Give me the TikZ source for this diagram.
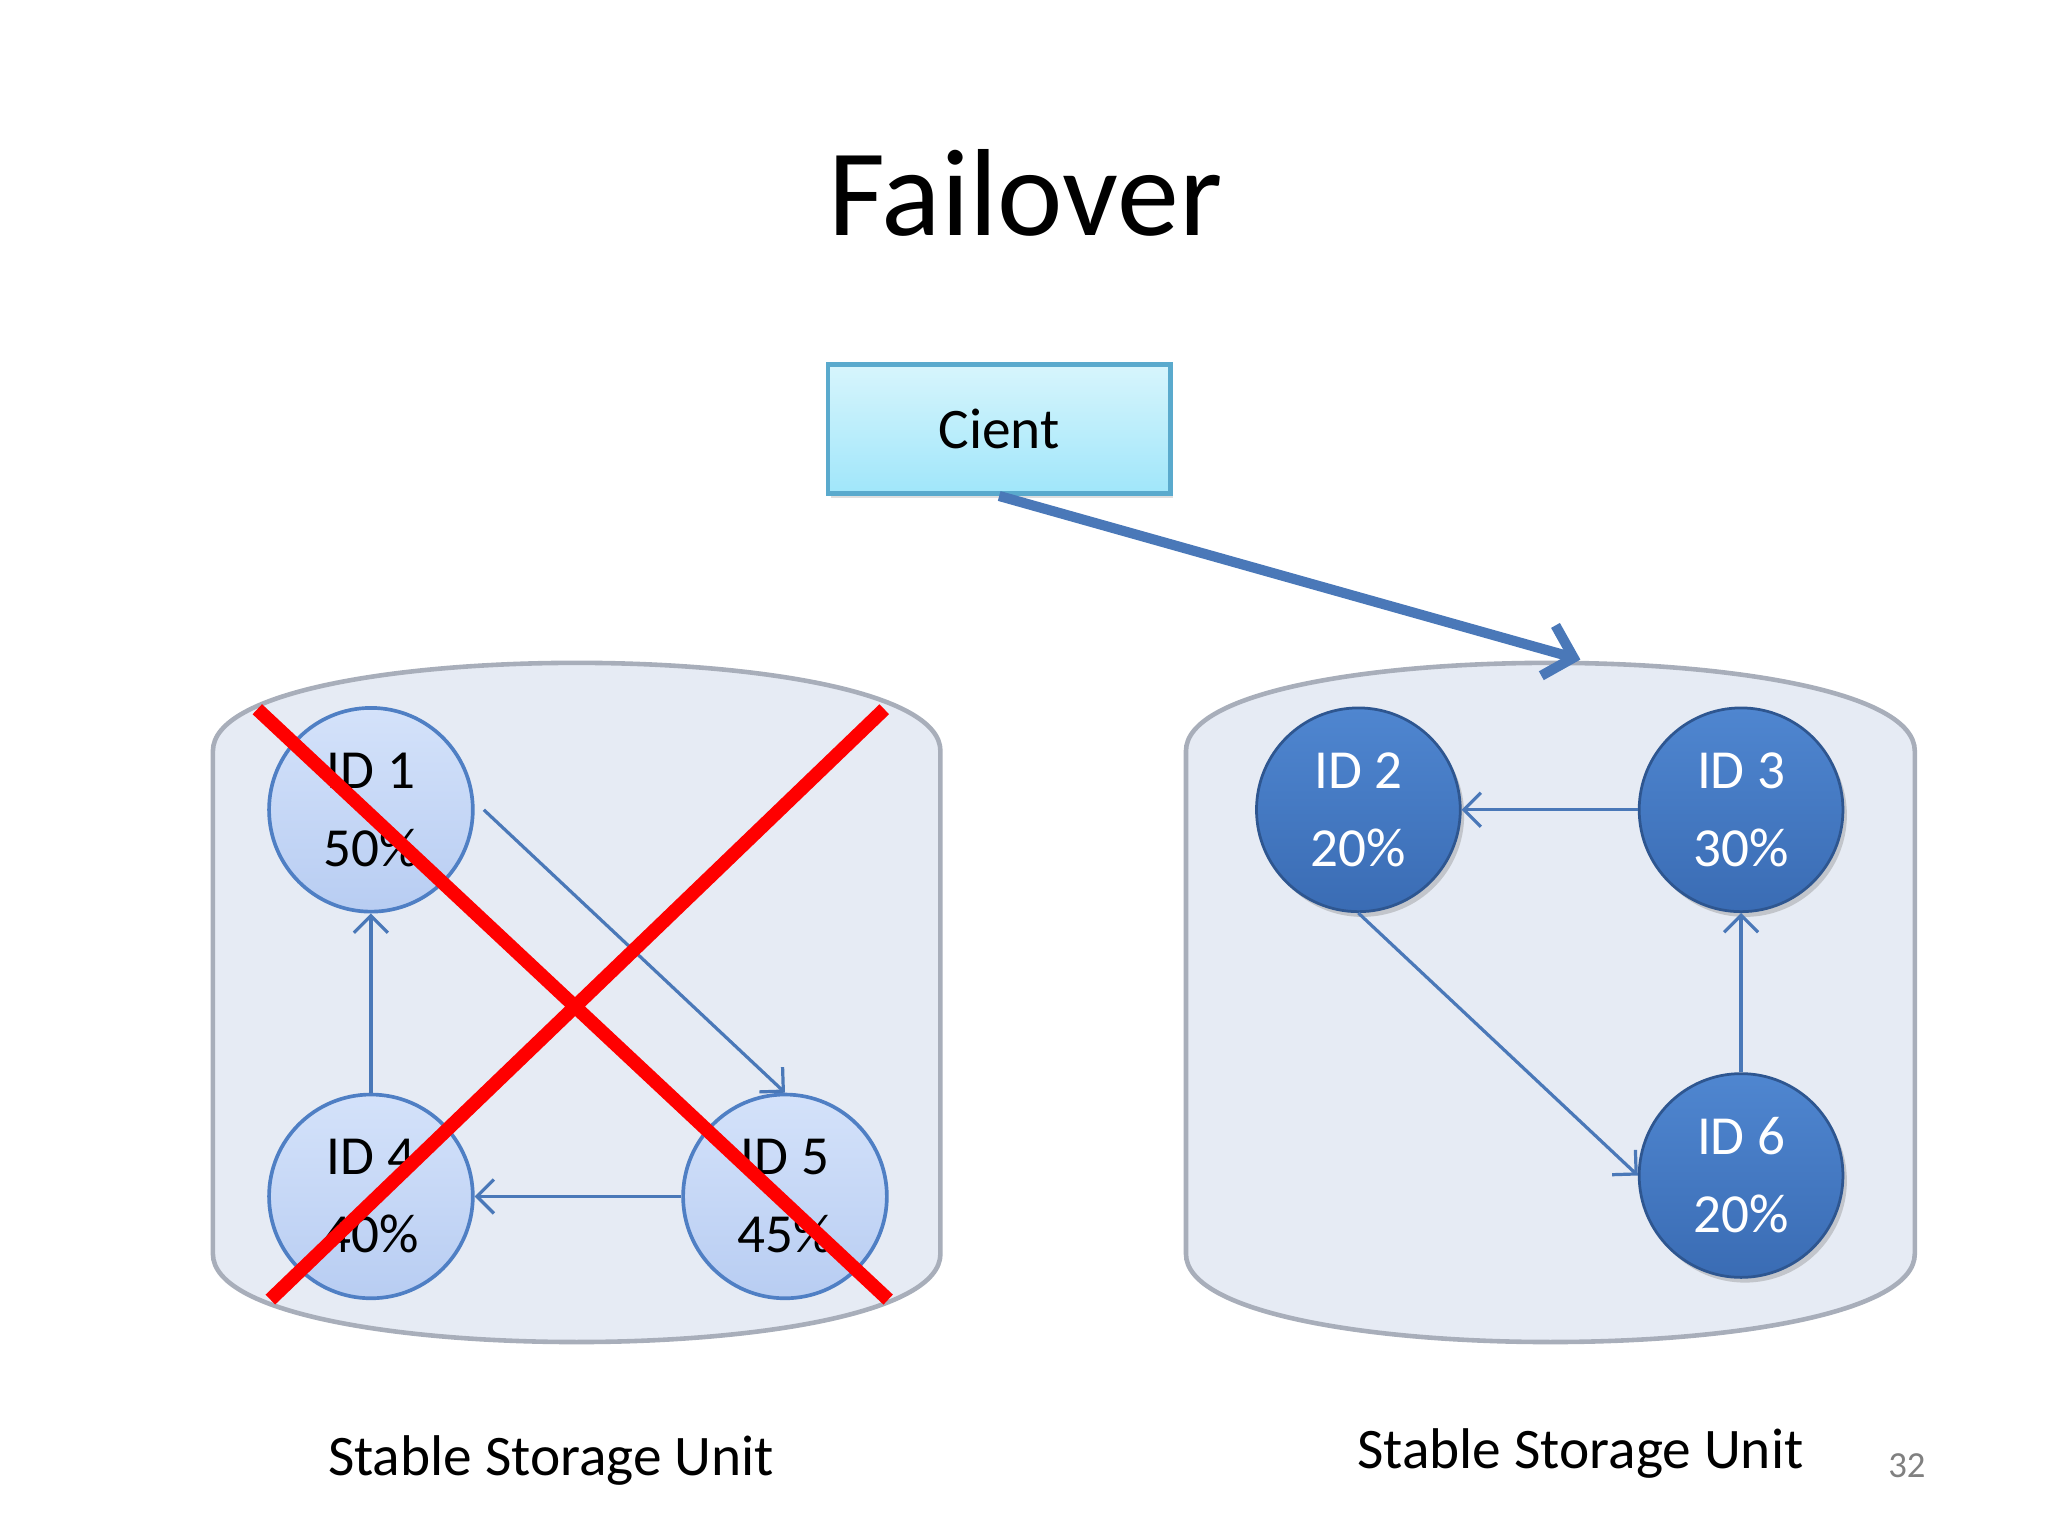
\documentclass[tikz,border=0pt]{standalone}
\usepackage{fontspec}
\setmainfont{Carlito}
\usetikzlibrary{arrows.meta,shadows}
\definecolor{cylfill}{HTML}{E6EBF4}
\definecolor{cylline}{HTML}{A8AEBA}
\definecolor{lblue}{HTML}{B8CDF2}
\definecolor{lbluetop}{HTML}{D4E2FA}
\definecolor{lline}{HTML}{4F7FC4}
\definecolor{dblue}{HTML}{3A6CB4}
\definecolor{dbluetop}{HTML}{4F86D0}
\definecolor{arr}{HTML}{4A78B8}
\tikzset{
  cyl/.style={fill=cylfill,draw=cylline,line width=1pt},
  lnode/.style={circle,minimum size=1.56cm,inner sep=0pt,draw=lline,line width=0.8pt,top color=lbluetop,bottom color=lblue,align=center,font=\fontsize{12}{17}\selectfont,text=black},
  dnode/.style={circle,minimum size=1.56cm,inner sep=0pt,draw=dblue!80!black,line width=0.6pt,top color=dbluetop,bottom color=dblue,align=center,font=\fontsize{12}{17}\selectfont,text=white,drop shadow={opacity=0.35,shadow xshift=0.03cm,shadow yshift=-0.04cm}},
  thin/.style={draw=arr,line width=0.7pt,-{Straight Barb[length=1.3mm,width=2.6mm]}},
  cross/.style={draw=red,line width=3pt},
  lbl/.style={font=\fontsize{12.5}{15}\selectfont}
}
\begin{document}
\begin{tikzpicture}
\useasboundingbox (0,0) rectangle (15.68,-11.76);
\node (title) at (7.85,-1.48) {\fontsize{27}{32}\selectfont Failover};
\node[draw={rgb,255:red,90;green,170;blue,205},line width=1pt,top color={rgb,255:red,215;green,245;blue,252},bottom color={rgb,255:red,160;green,230;blue,250},minimum width=2.62cm,minimum height=0.99cm,font=\fontsize{12.5}{15}\selectfont,drop shadow={opacity=0.25,shadow xshift=0.02cm,shadow yshift=-0.03cm}] (client) at (7.65,-3.285) {Cient};
% cylinders
\draw[cyl] (1.63,-5.75) .. controls (1.63,-4.85) and (7.20,-4.85) .. (7.20,-5.75) -- (7.20,-9.60) .. controls (7.20,-10.50) and (1.63,-10.50) .. (1.63,-9.60) -- cycle;
\draw[cyl] (9.08,-5.75) .. controls (9.08,-4.85) and (14.66,-4.85) .. (14.66,-5.75) -- (14.66,-9.60) .. controls (14.66,-10.50) and (9.08,-10.50) .. (9.08,-9.60) -- cycle;
\coordinate (rtop) at (12.10,-5.05);
\draw[draw=arr,line width=2.2pt,-{Straight Barb[length=2mm,width=4mm]}] (client.south) -- (rtop);
% left nodes
\node[lnode] (id1) at (2.84,-6.20) {ID 1\\50\%};
\node[lnode] (id4) at (2.84,-9.16) {ID 4\\40\%};
\node[lnode] (id5) at (6.01,-9.16) {ID 5\\45\%};
\draw[thin] (id1.east) ++(0.07,0) -- (id5.north);
\draw[thin] (id4) -- (id1);
\draw[thin] (id5) -- (id4);
% right nodes
\node[dnode] (id2) at (10.40,-6.20) {ID 2\\20\%};
\node[dnode] (id3) at (13.33,-6.20) {ID 3\\30\%};
\node[dnode] (id6) at (13.33,-9.00) {ID 6\\20\%};
\draw[thin] (id3) -- (id2);
\draw[thin] (id2.south) -- (id6.west);
\draw[thin] (id6) -- (id3);
% cross
\draw[cross] (1.97,-5.43) -- (6.80,-9.95);
\draw[cross] (6.77,-5.43) -- (2.07,-9.95);
\node[lbl] (l1) at (4.22,-11.18) {Stable Storage Unit};
\node[lbl] (l2) at (12.10,-11.13) {Stable Storage Unit};
\node[font=\fontsize{8}{10}\selectfont,text=gray] (pg) at (14.60,-11.22) {32};
\end{tikzpicture}
\end{document}
